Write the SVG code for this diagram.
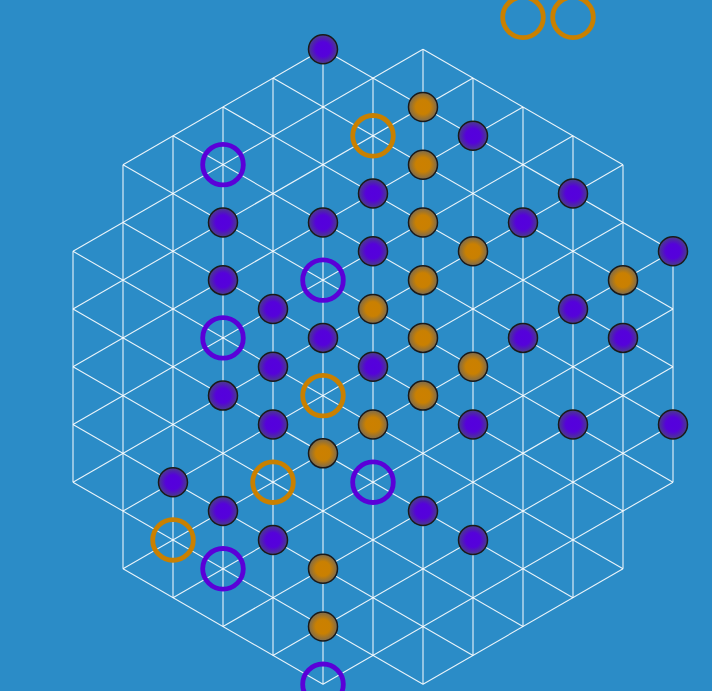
<svg xmlns="http://www.w3.org/2000/svg" width="712" height="691" viewBox="0 0 712 691">
<defs>
<radialGradient id="gp" cx="50%" cy="50%" r="50%">
<stop offset="0" stop-color="#5500dd"/><stop offset="0.5" stop-color="#5502da"/><stop offset="1" stop-color="#493d88"/>
</radialGradient>
<radialGradient id="go" cx="50%" cy="50%" r="50%">
<stop offset="0" stop-color="#cc8000"/><stop offset="0.5" stop-color="#c98002"/><stop offset="1" stop-color="#7a6a50"/>
</radialGradient>
</defs>
<style>
.grid line{stroke:#ffffff;stroke-width:1.1;stroke-opacity:0.9;fill:none}
.sp{fill:url(#gp);stroke:#1a1a1a;stroke-width:1.5}
.so{fill:url(#go);stroke:#1a1a1a;stroke-width:1.5}
.rp{fill:none;stroke:#5a00d8;stroke-width:4.8}
.ro{fill:none;stroke:#c98000;stroke-width:4.8}
</style>
<rect width="712" height="691" fill="#2b8cc7"/>
<g id="connectors" class="grid">
<line x1="73" y1="251.27" x2="73" y2="482.21"/>
<line x1="123" y1="164.67" x2="123" y2="568.82"/>
<line x1="173" y1="135.80" x2="173" y2="597.68"/>
<line x1="223" y1="106.94" x2="223" y2="626.55"/>
<line x1="273" y1="78.07" x2="273" y2="655.42"/>
<line x1="323" y1="49.2" x2="323" y2="684.29"/>
<line x1="373" y1="78.07" x2="373" y2="655.42"/>
<line x1="423" y1="49.2" x2="423" y2="684.29"/>
<line x1="473" y1="78.07" x2="473" y2="655.42"/>
<line x1="523" y1="106.94" x2="523" y2="626.55"/>
<line x1="573" y1="135.80" x2="573" y2="597.68"/>
<line x1="623" y1="164.67" x2="623" y2="568.82"/>
<line x1="673" y1="251.27" x2="673" y2="482.21"/>
<line x1="423" y1="49.2" x2="623" y2="164.67"/>
<line x1="323" y1="49.2" x2="673" y2="251.27"/>
<line x1="273" y1="78.07" x2="673" y2="309.01"/>
<line x1="223" y1="106.94" x2="673" y2="366.74"/>
<line x1="173" y1="135.80" x2="673" y2="424.48"/>
<line x1="123" y1="164.67" x2="673" y2="482.21"/>
<line x1="123" y1="222.41" x2="623" y2="511.08"/>
<line x1="73" y1="251.27" x2="623" y2="568.82"/>
<line x1="73" y1="309.01" x2="573" y2="597.68"/>
<line x1="73" y1="366.74" x2="523" y2="626.55"/>
<line x1="73" y1="424.48" x2="473" y2="655.42"/>
<line x1="73" y1="482.21" x2="423" y2="684.29"/>
<line x1="123" y1="568.82" x2="323" y2="684.29"/>
<line x1="123" y1="164.67" x2="323" y2="49.2"/>
<line x1="73" y1="251.27" x2="423" y2="49.2"/>
<line x1="73" y1="309.01" x2="473" y2="78.07"/>
<line x1="73" y1="366.74" x2="523" y2="106.94"/>
<line x1="73" y1="424.48" x2="573" y2="135.80"/>
<line x1="73" y1="482.21" x2="623" y2="164.67"/>
<line x1="123" y1="511.08" x2="623" y2="222.41"/>
<line x1="123" y1="568.82" x2="673" y2="251.27"/>
<line x1="173" y1="597.68" x2="673" y2="309.01"/>
<line x1="223" y1="626.55" x2="673" y2="366.74"/>
<line x1="273" y1="655.42" x2="673" y2="424.48"/>
<line x1="323" y1="684.29" x2="673" y2="482.21"/>
<line x1="423" y1="684.29" x2="623" y2="568.82"/>
</g>
<g id="purple-stones">
<circle id="p1" class="sp" cx="323" cy="49.2" r="14.5"/>
<circle id="p2" class="sp" cx="473" cy="135.80" r="14.5"/>
<circle id="p3" class="sp" cx="373" cy="193.54" r="14.5"/>
<circle id="p4" class="sp" cx="573" cy="193.54" r="14.5"/>
<circle id="p5" class="sp" cx="223" cy="222.41" r="14.5"/>
<circle id="p6" class="sp" cx="323" cy="222.41" r="14.5"/>
<circle id="p7" class="sp" cx="523" cy="222.41" r="14.5"/>
<circle id="p8" class="sp" cx="373" cy="251.27" r="14.5"/>
<circle id="p9" class="sp" cx="673" cy="251.27" r="14.5"/>
<circle id="p10" class="sp" cx="223" cy="280.14" r="14.5"/>
<circle id="p11" class="sp" cx="273" cy="309.01" r="14.5"/>
<circle id="p12" class="sp" cx="573" cy="309.01" r="14.5"/>
<circle id="p13" class="sp" cx="323" cy="337.88" r="14.5"/>
<circle id="p14" class="sp" cx="523" cy="337.88" r="14.5"/>
<circle id="p15" class="sp" cx="623" cy="337.88" r="14.5"/>
<circle id="p16" class="sp" cx="273" cy="366.74" r="14.5"/>
<circle id="p17" class="sp" cx="373" cy="366.74" r="14.5"/>
<circle id="p18" class="sp" cx="223" cy="395.61" r="14.5"/>
<circle id="p19" class="sp" cx="273" cy="424.48" r="14.5"/>
<circle id="p20" class="sp" cx="473" cy="424.48" r="14.5"/>
<circle id="p21" class="sp" cx="573" cy="424.48" r="14.5"/>
<circle id="p22" class="sp" cx="673" cy="424.48" r="14.5"/>
<circle id="p23" class="sp" cx="173" cy="482.21" r="14.5"/>
<circle id="p24" class="sp" cx="223" cy="511.08" r="14.5"/>
<circle id="p25" class="sp" cx="423" cy="511.08" r="14.5"/>
<circle id="p26" class="sp" cx="273" cy="539.95" r="14.5"/>
<circle id="p27" class="sp" cx="473" cy="539.95" r="14.5"/>
</g>
<g id="orange-stones">
<circle id="o1" class="so" cx="423" cy="106.94" r="14.5"/>
<circle id="o2" class="so" cx="423" cy="164.67" r="14.5"/>
<circle id="o3" class="so" cx="423" cy="222.41" r="14.5"/>
<circle id="o4" class="so" cx="473" cy="251.27" r="14.5"/>
<circle id="o5" class="so" cx="423" cy="280.14" r="14.5"/>
<circle id="o6" class="so" cx="623" cy="280.14" r="14.5"/>
<circle id="o7" class="so" cx="373" cy="309.01" r="14.5"/>
<circle id="o8" class="so" cx="423" cy="337.88" r="14.5"/>
<circle id="o9" class="so" cx="473" cy="366.74" r="14.5"/>
<circle id="o10" class="so" cx="423" cy="395.61" r="14.5"/>
<circle id="o11" class="so" cx="373" cy="424.48" r="14.5"/>
<circle id="o12" class="so" cx="323" cy="453.35" r="14.5"/>
<circle id="o13" class="so" cx="323" cy="568.82" r="14.5"/>
<circle id="o14" class="so" cx="323" cy="626.55" r="14.5"/>
</g>
<g id="purple-rings">
<circle id="rp1" class="rp" cx="223" cy="164.67" r="20.3"/>
<circle id="rp2" class="rp" cx="323" cy="280.14" r="20.3"/>
<circle id="rp3" class="rp" cx="223" cy="337.88" r="20.3"/>
<circle id="rp4" class="rp" cx="373" cy="482.21" r="20.3"/>
<circle id="rp5" class="rp" cx="223" cy="568.82" r="20.3"/>
<circle id="rp6" class="rp" cx="323" cy="684.29" r="20.3"/>
</g>
<g id="orange-rings">
<circle id="ro1" class="ro" cx="373" cy="135.80" r="20.3"/>
<circle id="ro2" class="ro" cx="323" cy="395.61" r="20.3"/>
<circle id="ro3" class="ro" cx="273" cy="482.21" r="20.3"/>
<circle id="ro4" class="ro" cx="173" cy="539.95" r="20.3"/>
<circle id="ro5" class="ro" cx="523" cy="17.3" r="20.3"/>
<circle id="ro6" class="ro" cx="573" cy="17.3" r="20.3"/>
</g>
</svg>
